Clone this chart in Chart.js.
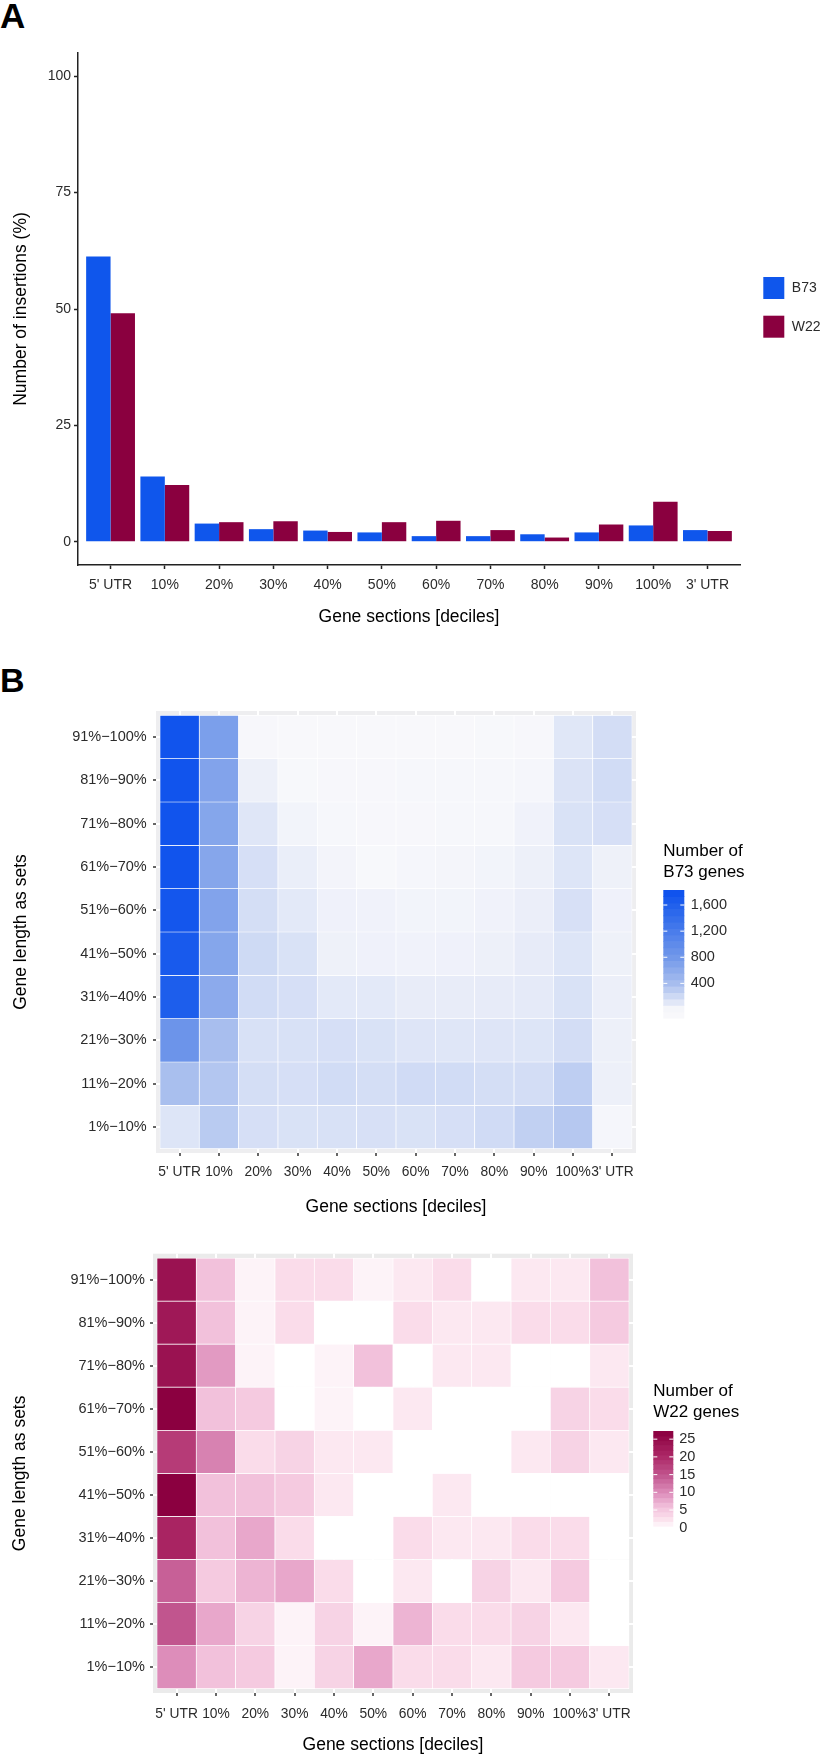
<!DOCTYPE html>
<html>
<head>
<meta charset="utf-8">
<script src="https://cdn.jsdelivr.net/npm/chart.js@4.4.1/dist/chart.umd.min.js"></script>
<style>
  html, body { margin: 0; padding: 0; background: #fff; }
  body { width: 826px; height: 1756px; position: relative; overflow: hidden; font-family: "Liberation Sans", Arial, sans-serif; }
  canvas { position: absolute; left: 0; }
  .panel-tag { position: absolute; left: 0; font-weight: bold; line-height: 1; color: #000; }
</style>
</head>
<body>
<div class="panel-tag" style="top:-2px;font-size:35px">A</div>
<div class="panel-tag" style="top:663px;font-size:34px">B</div>
<canvas id="insertChart" width="826" height="640" style="top:0"></canvas>
<canvas id="b73Heat" width="826" height="600" style="top:640px"></canvas>
<canvas id="w22Heat" width="826" height="516" style="top:1240px"></canvas>
<script>
const sections = ["5' UTR", "10%", "20%", "30%", "40%", "50%", "60%", "70%", "80%", "90%", "100%", "3' UTR"];

// panel A: share of insertions per gene section (%)
const b73Pct = [61.3, 14.0, 3.9, 2.7, 2.4, 2.0, 1.2, 1.2, 1.6, 2.0, 3.5, 2.5];
const w22Pct = [49.1, 12.2, 4.2, 4.4, 2.1, 4.2, 4.5, 2.5, 0.9, 3.7, 8.6, 2.3];
const pctTicks = [0, 25, 50, 75, 100];

// panel B: gene length sets, top row first
const lengthSets = ["91%−100%", "81%−90%", "71%−80%", "61%−70%", "51%−60%",
                    "41%−50%", "31%−40%", "21%−30%", "11%−20%", "1%−10%"];

const b73Counts = [
    [1772, 740, 5, 0, 0, 2, 2, 0, 3, 5, 118, 185],
    [1772, 687, 56, 3, 5, 5, 8, 8, 8, 15, 144, 195],
    [1772, 664, 123, 31, 8, 6, 6, 8, 10, 41, 154, 169],
    [1772, 657, 169, 72, 26, 3, 15, 21, 31, 56, 133, 51],
    [1738, 687, 180, 103, 46, 41, 31, 31, 41, 67, 164, 46],
    [1692, 664, 210, 154, 51, 46, 41, 46, 56, 87, 133, 51],
    [1635, 611, 195, 169, 103, 103, 82, 82, 87, 97, 154, 62],
    [870, 400, 159, 159, 169, 154, 128, 123, 128, 133, 185, 56],
    [395, 344, 180, 169, 195, 180, 200, 195, 180, 185, 292, 56],
    [133, 313, 169, 154, 159, 164, 154, 169, 200, 277, 328, 15]
];

const w22Counts = [
    [24, 6, 1, 3, 3, 1, 2, 3, 0, 2, 2, 6],
    [23, 6, 1, 3, 0, 0, 3, 2, 2, 3, 3, 5],
    [24, 9, 1, 0, 1, 6, 0, 2, 2, 0, 0, 2],
    [27, 6, 5, 0, 1, 0, 2, 0, 0, 0, 4, 3],
    [18, 11, 3, 4, 2, 2, 0, 0, 0, 2, 4, 2],
    [27, 6, 6, 5, 2, 0, 0, 2, 0, 0, 0, 0],
    [21, 6, 8, 3, 0, 0, 3, 2, 2, 3, 3, 0],
    [14, 5, 7, 8, 3, 0, 2, 0, 4, 2, 5, 0],
    [15, 8, 4, 1, 4, 1, 7, 3, 3, 4, 2, 0],
    [10, 6, 5, 1, 4, 8, 3, 3, 2, 5, 5, 2]
];

const b73LegendTicks = [400, 800, 1200, 1600];
const w22LegendTicks = [0, 5, 10, 15, 20, 25];

// colour scales
const b73Stops = [[0, "#F8F8FB"], [400, "#A8BEEE"], [800, "#7399EA"], [1200, "#4A7DEB"], [1600, "#2060EC"], [1830, "#0C50EE"]];
const w22Stops = [[0, "#FFFFFF"], [3, "#FADCEA"], [6, "#F2C1DB"], [10, "#DD8DBA"], [15, "#C1558E"], [20, "#AE2A68"], [27, "#8B0040"]];

const blue = "#0F56EC";
const maroon = "#8A003F";
const tickColor = "#2b2b2b";
const titleColor = "#000";
const fontFamily = '"Liberation Sans", Arial, sans-serif';

Chart.defaults.font.family = fontFamily;

function hexToRgb(hex) {
    const n = parseInt(hex.slice(1), 16);
    return [(n >> 16) & 255, (n >> 8) & 255, n & 255];
}

function makeRamp(stops) {
    const pts = stops.map(([v, c]) => [v, hexToRgb(c)]);
    const css = (c) => `rgb(${c.map(Math.round).join(",")})`;
    return (v) => {
        if (v <= pts[0][0]) return css(pts[0][1]);
        for (let i = 1; i < pts.length; i++) {
            if (v <= pts[i][0]) {
                const [v0, c0] = pts[i - 1];
                const [v1, c1] = pts[i];
                const t = (v - v0) / (v1 - v0);
                return css(c0.map((c, k) => c + (c1[k] - c) * t));
            }
        }
        return css(pts[pts.length - 1][1]);
    };
}

function panelBackground(color) {
    return {
        id: "panelBackground",
        beforeDraw(chart) {
            const { ctx, chartArea: a } = chart;
            ctx.save();
            ctx.fillStyle = color;
            ctx.fillRect(a.left, a.top, a.right - a.left, a.bottom - a.top);
            ctx.restore();
        }
    };
}

function keyLegend(o) {
    return {
        id: "keyLegend",
        afterDraw(chart) {
            const { ctx } = chart;
            ctx.save();
            ctx.font = `14px ${fontFamily}`;
            ctx.textBaseline = "middle";
            chart.data.datasets.forEach((ds, i) => {
                const y = o.y + i * o.gap;
                ctx.fillStyle = ds.backgroundColor;
                ctx.fillRect(o.x, y - o.boxH / 2, o.boxW, o.boxH);
                ctx.fillStyle = tickColor;
                ctx.fillText(ds.label, o.x + o.boxW + 7.5, y);
            });
            ctx.restore();
        }
    };
}

function colorBar(o) {
    return {
        id: "colorBar",
        afterDraw(chart) {
            const { ctx } = chart;
            const span = o.vmax - o.vmin;
            const yOf = (v) => o.bottom - (v - o.vmin) / span * (o.bottom - o.top);
            const bins = 20;
            const binH = (o.bottom - o.top) / bins;
            ctx.save();
            for (let i = 0; i < bins; i++) {
                ctx.fillStyle = o.colorOf(o.vmin + (i + 0.5) * span / bins);
                ctx.fillRect(o.x, o.bottom - (i + 1) * binH, o.width, binH + 0.6);
            }
            ctx.strokeStyle = "#fff";
            ctx.lineWidth = 1;
            ctx.font = `14.5px ${fontFamily}`;
            ctx.textBaseline = "middle";
            ctx.textAlign = "left";
            o.ticks.forEach((t) => {
                const y = yOf(t);
                if (y > o.top + 1 && y < o.bottom - 1) {
                    ctx.beginPath();
                    ctx.moveTo(o.x, y);
                    ctx.lineTo(o.x + 4, y);
                    ctx.moveTo(o.x + o.width - 4, y);
                    ctx.lineTo(o.x + o.width, y);
                    ctx.stroke();
                }
                ctx.fillStyle = tickColor;
                ctx.fillText(t.toLocaleString("en-US"), o.labelX, y);
            });
            ctx.fillStyle = titleColor;
            ctx.font = `17px ${fontFamily}`;
            o.title.forEach((line, i) => ctx.fillText(line, o.x, o.titleY + i * 20.8));
            ctx.restore();
        }
    };
}

// ---- panel A ----
new Chart(document.getElementById("insertChart"), {
    type: "bar",
    data: {
        datasets: [
            { label: "B73", data: b73Pct.map((v, i) => ({ x: i, y: v })), backgroundColor: blue },
            { label: "W22", data: w22Pct.map((v, i) => ({ x: i, y: v })), backgroundColor: maroon }
        ]
    },
    options: {
        responsive: false,
        animation: false,
        events: [],
        categoryPercentage: 0.9,
        barPercentage: 1,
        layout: { padding: { left: 0, top: 53, right: 86, bottom: 0 } },
        plugins: { legend: { display: false }, tooltip: { enabled: false } },
        scales: {
            x: {
                type: "linear",
                offset: false,
                min: -0.6,
                max: sections.length - 0.4,
                afterBuildTicks: (ax) => { ax.ticks = sections.map((s, i) => ({ value: i })); },
                afterFit: (ax) => { ax.height = 75; },
                ticks: { autoSkip: false, maxRotation: 0, padding: 7.5, color: tickColor, font: { size: 14 }, callback: (v) => sections[v] },
                grid: { offset: false, drawOnChartArea: false, tickLength: 4, tickColor: "#222", tickWidth: 1.5 },
                border: { display: true, color: "#222", width: 1.5 },
                title: { display: true, text: "Gene sections [deciles]", color: titleColor, font: { size: 17.5 }, padding: { top: 0, bottom: 12.5 } }
            },
            y: {
                type: "linear",
                min: -5,
                max: 105,
                afterBuildTicks: (ax) => { ax.ticks = pctTicks.map((v) => ({ value: v })); },
                afterFit: (ax) => { ax.width = 78; },
                ticks: { padding: 3, color: tickColor, font: { size: 14 } },
                grid: { drawOnChartArea: false, tickLength: 4, tickColor: "#222", tickWidth: 1.5 },
                border: { display: true, color: "#222", width: 1.5 },
                title: { display: true, text: "Number of insertions (%)", color: titleColor, font: { size: 17.5 }, padding: { top: 10.5, bottom: 0 } }
            }
        }
    },
    plugins: [keyLegend({ x: 763.3, y: 288, gap: 38.7, boxW: 21, boxH: 22 })]
});

// ---- panel B heatmaps ----
function heatmap(canvasId, counts, colorOf, g, bar) {
    const datasets = counts.map((row, r) => ({
        data: row.map((n, c) => ({ x: c, y: [r - 0.5, r + 0.5] })),
        backgroundColor: row.map(colorOf),
        borderColor: "#ffffff",
        borderWidth: 0.7,
        borderSkipped: false,
        grouped: false,
        barPercentage: 1,
        categoryPercentage: 1
    }));
    return new Chart(document.getElementById(canvasId), {
        type: "bar",
        data: { datasets },
        options: {
            responsive: false,
            animation: false,
            events: [],
            layout: { padding: { left: 0, top: g.top, right: g.right, bottom: 0 } },
            plugins: { legend: { display: false }, tooltip: { enabled: false } },
            scales: {
                x: {
                    type: "linear",
                    offset: false,
                    min: -0.6,
                    max: sections.length - 0.4,
                    afterBuildTicks: (ax) => { ax.ticks = sections.map((s, i) => ({ value: i })); },
                    afterFit: (ax) => { ax.height = g.xAxisHeight; },
                    ticks: { autoSkip: false, maxRotation: 0, padding: g.xPad, color: tickColor, font: { size: 13.8 }, callback: (v) => sections[v] },
                    grid: { offset: false, color: "#ffffff", lineWidth: 2, tickColor: "#333", tickWidth: 1.5, tickLength: 3 },
                    border: { display: false },
                    title: { display: true, text: "Gene sections [deciles]", color: titleColor, font: { size: 17.5 }, padding: { top: 0, bottom: g.xTitlePad } }
                },
                y: {
                    type: "linear",
                    reverse: true,
                    offset: false,
                    min: -0.6,
                    max: lengthSets.length - 0.4,
                    afterBuildTicks: (ax) => { ax.ticks = lengthSets.map((s, i) => ({ value: i })); },
                    afterFit: (ax) => { ax.width = g.yAxisWidth; },
                    ticks: { autoSkip: false, padding: g.yPad, color: tickColor, font: { size: 14.5 }, callback: (v) => lengthSets[v] },
                    grid: { offset: false, color: "#ffffff", lineWidth: 2, tickColor: "#333", tickWidth: 1.5, tickLength: 3 },
                    border: { display: false },
                    title: { display: true, text: "Gene length as sets", color: titleColor, font: { size: 17.5 }, padding: { top: g.yTitlePad, bottom: 0 } }
                }
            }
        },
        plugins: [panelBackground(g.panel), colorBar(bar)]
    });
}

const b73Color = makeRamp(b73Stops);
const w22Color = makeRamp(w22Stops);

heatmap("b73Heat", b73Counts, b73Color,
    { top: 71, right: 190, xAxisHeight: 87, yAxisWidth: 156, xPad: 7.8, yPad: 6.3, xTitlePad: 22.8, yTitlePad: 11, panel: "#EEEEF0" },
    { x: 663.3, width: 21, top: 250, bottom: 378, vmin: -130, vmax: 1830, ticks: b73LegendTicks,
      labelX: 690.7, title: ["Number of", "B73 genes"], titleY: 211.7, colorOf: b73Color });

heatmap("w22Heat", w22Counts, w22Color,
    { top: 11, right: 193, xAxisHeight: 63, yAxisWidth: 153, xPad: 9.5, yPad: 5, xTitlePad: 0, yTitlePad: 10, panel: "#EBEBEB" },
    { x: 653.3, width: 20, top: 191, bottom: 286, vmin: 0.5, vmax: 27.3, ticks: w22LegendTicks,
      labelX: 679.3, title: ["Number of", "W22 genes"], titleY: 151.7, colorOf: w22Color });
</script>
</body>
</html>
